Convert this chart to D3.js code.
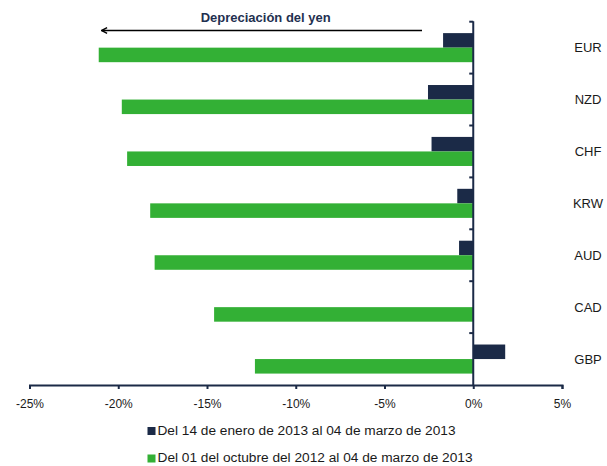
<!DOCTYPE html>
<html>
<head>
<meta charset="utf-8">
<script src="https://cdn.jsdelivr.net/npm/d3@7"></script>
<style>
  html, body { margin: 0; padding: 0; background: #fff; }
  svg { display: block; font-family: "Liberation Sans", Arial, sans-serif; }
</style>
</head>
<body>
<svg id="chart" width="607" height="466"></svg>
<script>
// Currencies, top to bottom
const categories = ["EUR", "NZD", "CHF", "KRW", "AUD", "CAD", "GBP"];
// Change vs. the yen (%), short window
const seriesShort = [-1.7, -2.55, -2.35, -0.9, -0.8, 0.0, 1.8];
// Change vs. the yen (%), long window
const seriesLong = [-21.1, -19.8, -19.5, -18.2, -17.95, -14.6, -12.3];
const seriesNames = [
  "Del 14 de enero de 2013 al 04 de marzo de 2013",
  "Del 01 del octubre del 2012 al 04 de marzo de 2013"
];
const xTicks = [-25, -20, -15, -10, -5, 0, 5];
const titleText = "Depreciación del yen";

const colors = ["#1b2a47", "#33b035"];
const axisColor = "#1b2a47";
const textColor = "#1a1a1a";

const svg = d3.select("#chart");

const x = d3.scaleLinear().domain([-25, 5]).range([29.5, 562]);
const y = d3.scaleBand().domain(categories).range([21.7, 385])
  .paddingInner(0.44).paddingOuter(0.22);
const ySub = d3.scaleBand().domain([0, 1]).range([0, y.bandwidth()]);

const rows = categories.map((c, i) => ({ cat: c, values: [seriesShort[i], seriesLong[i]] }));

// Bars
const g = svg.append("g");
rows.forEach(r => {
  r.values.forEach((v, s) => {
    g.append("rect")
      .attr("x", x(Math.min(0, v)))
      .attr("y", y(r.cat) + ySub(s))
      .attr("width", Math.abs(x(v) - x(0)))
      .attr("height", ySub.bandwidth())
      .attr("fill", colors[s]);
  });
});

// Bottom axis
const xAxis = svg.append("g")
  .attr("transform", "translate(0,385)")
  .call(d3.axisBottom(x).tickValues(xTicks).tickFormat(d => d + "%").tickSize(4).tickSizeOuter(4));
xAxis.select(".domain").attr("stroke", axisColor).attr("stroke-width", 2);
xAxis.selectAll(".tick line").attr("stroke", axisColor).attr("stroke-width", 2);
xAxis.selectAll(".tick text")
  .attr("fill", textColor).attr("font-size", 12).attr("dy", 0).attr("y", 23)
  .attr("font-family", "Liberation Sans, Arial, sans-serif");

// Vertical zero line with category-boundary ticks
const yTop = y.range()[0], yBot = y.range()[1];
svg.append("line")
  .attr("x1", x(0)).attr("x2", x(0)).attr("y1", yTop - 0.5).attr("y2", yBot)
  .attr("stroke", axisColor).attr("stroke-width", 2);
const bounds = d3.range(categories.length).map(i => yTop + i * y.step());
svg.selectAll(".ytick").data(bounds).enter().append("line")
  .attr("x1", x(0) - 4).attr("x2", x(0)).attr("y1", d => d).attr("y2", d => d)
  .attr("stroke", axisColor).attr("stroke-width", 2);

// Category labels on the right
svg.selectAll(".cat").data(categories).enter().append("text")
  .attr("x", 588).attr("y", d => y(d) + y.bandwidth() / 2 + 4.5)
  .attr("text-anchor", "middle").attr("font-size", 13).attr("fill", textColor)
  .text(d => d);

// Annotation: arrow and title
svg.append("defs").append("marker")
  .attr("id", "arrowhead").attr("viewBox", "0 0 10 10")
  .attr("refX", 9).attr("refY", 5).attr("markerWidth", 7).attr("markerHeight", 7)
  .attr("markerUnits", "userSpaceOnUse").attr("orient", "auto")
  .append("path").attr("d", "M1,1 L9,5 L1,9").attr("fill", "none")
  .attr("stroke", "#000").attr("stroke-width", 2);
svg.append("line")
  .attr("x1", 422).attr("x2", 101.5).attr("y1", 30.5).attr("y2", 30.5)
  .attr("stroke", "#000").attr("stroke-width", 1.5)
  .attr("marker-end", "url(#arrowhead)");
svg.append("text")
  .attr("x", 200.7).attr("y", 21.5)
  .attr("font-size", 12).attr("font-weight", "bold").attr("fill", "#1f3050")
  .attr("textLength", 130).attr("lengthAdjust", "spacingAndGlyphs")
  .text(titleText);

// Legend
const legendWidths = [298, 315];
const legend = svg.append("g");
seriesNames.forEach((name, i) => {
  const ly = 434.5 + i * 27.5;
  legend.append("rect")
    .attr("x", 147.5).attr("y", ly - 7.5).attr("width", 8).attr("height", 8)
    .attr("fill", colors[i]);
  legend.append("text")
    .attr("x", 157.5).attr("y", ly).attr("font-size", 12).attr("fill", textColor)
    .attr("textLength", legendWidths[i]).attr("lengthAdjust", "spacingAndGlyphs")
    .text(name);
});
</script>
</body>
</html>
